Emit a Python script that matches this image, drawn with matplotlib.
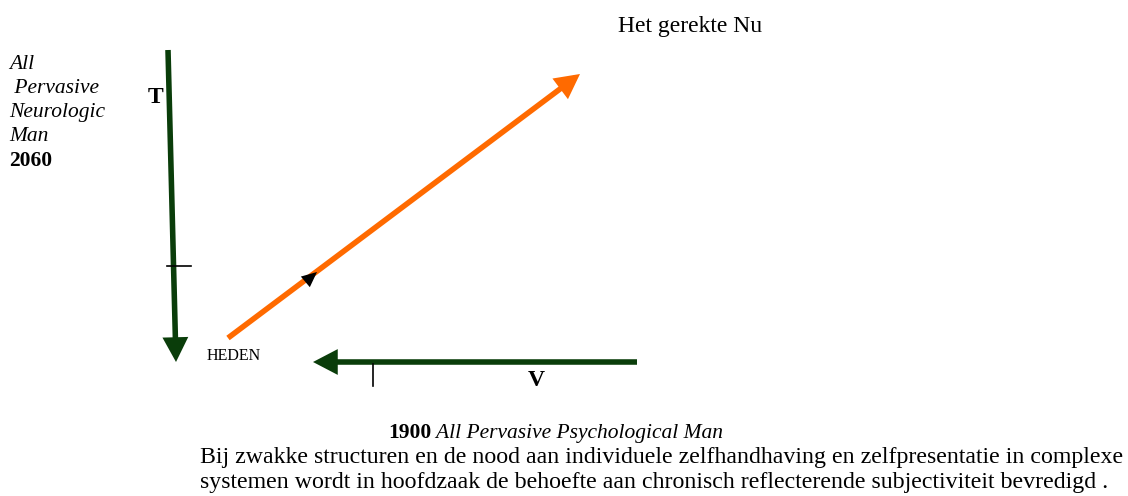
import matplotlib.pyplot as plt
from matplotlib.patches import FancyArrowPatch

# diagram geometry, in pixel coordinates of the 1128x496 picture
t_axis = [(168, 50), (176, 362)]
t_tick = [(167, 266), (191, 266)]
v_axis = [(637, 362), (313, 362)]
v_tick = [(373, 364), (373, 386)]
now_line = [(228, 338), (580, 74)]
mid_head = [(304, 283), (317, 272)]

left_lines = ["All", " Pervasive", "Neurologic", "Man"]
left_year = "2060"
bottom_year = "1900"
bottom_label = " All Pervasive Psychological Man"
caption = [
    "Bij zwakke structuren en de nood aan individuele zelfhandhaving en zelfpresentatie in complexe",
    "systemen wordt in hoofdzaak de behoefte aan chronisch reflecterende subjectiviteit bevredigd .",
]

plt.rcParams["font.family"] = ["Liberation Serif", "DejaVu Serif"]

fig = plt.figure(figsize=(11.28, 4.96), dpi=100)
ax = fig.add_axes([0, 0, 1, 1])
ax.set_xlim(0, 1128)
ax.set_ylim(496, 0)
ax.axis("off")

green = "#0a3d0a"
orange = "#ff6a00"


def arrow(pts, color, lw):
    a = FancyArrowPatch(pts[0], pts[1], arrowstyle="-|>,head_length=1.15,head_width=0.6",
                        color=color, lw=lw, mutation_scale=10, shrinkA=0, shrinkB=0,
                        capstyle="butt", joinstyle="miter")
    ax.add_patch(a)


arrow(t_axis, green, 4)
arrow(v_axis, green, 4)
arrow(now_line, orange, 4)
ax.plot(*zip(*t_tick), color="black", lw=1.2)
ax.plot(*zip(*v_tick), color="black", lw=1.2)
ax.add_patch(FancyArrowPatch(mid_head[0], mid_head[1], arrowstyle="-|>,head_length=1.1,head_width=0.5",
                             color="black", lw=0, mutation_scale=10, shrinkA=0, shrinkB=0))

ax.text(618, 32, "Het gerekte Nu", fontsize=17, va="baseline")
for i, s in enumerate(left_lines):
    ax.text(9, 69 + 24 * i, s, fontsize=15.5, style="italic", va="baseline")
ax.text(9, 166, left_year, fontsize=15.5, weight="bold", va="baseline")
ax.text(148, 103, "T", fontsize=17, weight="bold", va="baseline")
ax.text(528, 386, "V", fontsize=17, weight="bold", va="baseline")
ax.text(207, 360, "HEDEN", fontsize=11.5, va="baseline")

t = ax.text(388, 438, bottom_year, fontsize=15.5, weight="bold", va="baseline")
fig.canvas.draw()
bb = t.get_window_extent()
x_end = ax.transData.inverted().transform((bb.x1, 0))[0]
ax.text(x_end, 438, bottom_label, fontsize=15.5, style="italic", va="baseline")

for i, s in enumerate(caption):
    ax.text(200, 463 + 25 * i, s, fontsize=17.2, va="baseline")

fig.savefig("out.png", dpi=100)
